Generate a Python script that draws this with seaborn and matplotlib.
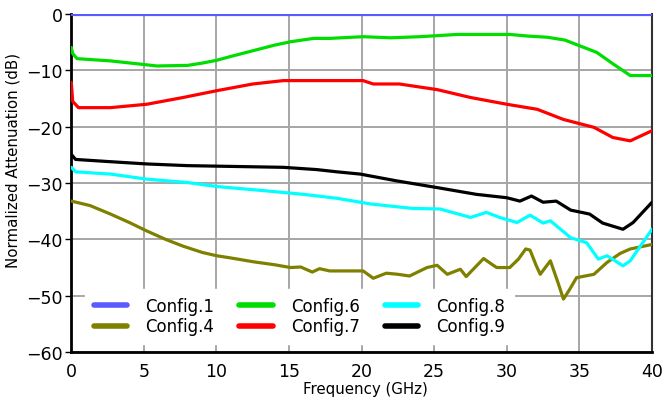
import seaborn as sns
from matplotlib import pyplot as plt
import pandas as pd

# frequency (GHz) / normalized attenuation (dB)
f_cfg1 = [0, 40]
a_cfg1 = [0, 0]

f_cfg4 = [0, 0.5, 1.3, 2.7, 4, 5.2, 6.5, 7.7, 9, 10, 11, 12.6, 14, 15.1, 15.8,
          16.6, 17.1, 17.8, 19, 20.1, 20.8, 21.7, 22.5, 23.3, 24.5, 25.2, 25.9,
          26.8, 27.2, 27.8, 28.4, 28.9, 29.3, 30.2, 30.8, 31.3, 31.6, 32.0,
          32.3, 33.0, 33.5, 33.9, 34.3, 34.8, 36.0, 36.9, 37.8, 38.5, 40]
a_cfg4 = [-33.2, -33.5, -34.0, -35.5, -37.0, -38.5, -40.0, -41.2, -42.3, -42.9,
          -43.3, -44.0, -44.5, -45.0, -44.9, -45.8, -45.2, -45.6, -45.6, -45.6,
          -46.9, -46.0, -46.2, -46.5, -45.0, -44.6, -46.2, -45.3, -46.6, -45.0,
          -43.4, -44.3, -45.0, -45.0, -43.5, -41.7, -41.9, -44.5, -46.2, -43.8,
          -47.5, -50.6, -49.0, -46.8, -46.2, -44.1, -42.5, -41.7, -40.9]

f_cfg6 = [0, 0.1, 0.4, 2.7, 4.5, 5.9, 8.0, 9, 10.0, 11, 12.5, 14, 15.1, 16.7,
          17.8, 20.1, 22, 24, 26.6, 30.2, 31.5, 32.8, 34, 35.0, 36.2, 37.3,
          38.5, 40]
a_cfg6 = [-5.9, -7.0, -7.9, -8.3, -8.8, -9.2, -9.1, -8.7, -8.2, -7.5, -6.5,
          -5.5, -4.9, -4.3, -4.3, -4.0, -4.2, -4.0, -3.6, -3.6, -3.9, -4.1,
          -4.6, -5.6, -6.8, -8.8, -10.9, -10.9]

f_cfg7 = [0, 0.1, 0.5, 2.7, 5.2, 7.7, 10.0, 12.5, 14.6, 20.1, 20.8, 22.6, 25.2,
          27.5, 30.0, 32.1, 33.9, 36.0, 37.3, 38.5, 40]
a_cfg7 = [-12.1, -15.5, -16.6, -16.6, -16.0, -14.8, -13.6, -12.4, -11.8, -11.8,
          -12.4, -12.4, -13.4, -14.8, -16.0, -16.9, -18.7, -20.1, -21.9, -22.5,
          -20.7]

f_cfg8 = [0, 0.3, 2.7, 5.2, 8.0, 10.0, 13.5, 16.0, 18.3, 20.6, 23.5, 25.4, 27.5,
          28.6, 29.5, 30.7, 31.6, 32.5, 33.0, 34.4, 35.5, 36.3, 36.9, 38.0,
          38.5, 40]
a_cfg8 = [-27.2, -28.0, -28.4, -29.3, -29.9, -30.6, -31.4, -32.0, -32.7, -33.7,
          -34.5, -34.6, -36.1, -35.2, -36.1, -37.0, -35.7, -37.1, -36.7, -39.7,
          -40.6, -43.5, -42.9, -44.7, -43.8, -38.2]

f_cfg9 = [0, 0.3, 2.7, 5.2, 8.0, 14.6, 16.9, 18.3, 19.9, 22.4, 25.2, 27.9, 30.0,
          30.9, 31.7, 32.5, 33.4, 34.4, 35.7, 36.6, 38.0, 38.7, 40]
a_cfg9 = [-24.9, -25.8, -26.2, -26.6, -26.9, -27.2, -27.6, -28.0, -28.4, -29.6,
          -30.8, -32.0, -32.6, -33.2, -32.3, -33.4, -33.2, -34.8, -35.5, -37.1,
          -38.2, -37.0, -33.4]

names = ['Config.1', 'Config.4', 'Config.6', 'Config.7', 'Config.8', 'Config.9']
colors = ['#5a5aff', '#808000', '#00dd00', '#ff0000', '#00ffff', '#000000']

series = [(f_cfg1, a_cfg1), (f_cfg4, a_cfg4), (f_cfg6, a_cfg6),
          (f_cfg7, a_cfg7), (f_cfg8, a_cfg8), (f_cfg9, a_cfg9)]
df = pd.concat([pd.DataFrame({'freq': f, 'att': a, 'config': n})
                for n, (f, a) in zip(names, series)], ignore_index=True)

sns.set_style("white")
plt.rcParams['font.family'] = ['DejaVu Sans']
plt.rcParams['text.color'] = 'black'
plt.rcParams['axes.labelcolor'] = 'black'
plt.rcParams['xtick.color'] = 'black'
plt.rcParams['ytick.color'] = 'black'

fig = plt.figure(figsize=(6.66, 4.10), dpi=100)
ax = fig.add_axes([0.107, 0.139, 0.872, 0.824])

sns.lineplot(data=df, x='freq', y='att', hue='config', hue_order=names,
             palette=dict(zip(names, colors)), linewidth=2.3, sort=False,
             estimator=None, ax=ax, zorder=3)

ax.set_xlim(0, 40)
ax.set_ylim(-60, 0)
ax.set_xticks(range(0, 41, 5))
ax.set_yticks(range(-60, 1, 10))
ax.grid(True, color='#a6a6a6', linewidth=1.4)
ax.set_axisbelow(True)
ax.set_xlabel('Frequency (GHz)', fontsize=10.8)
ax.set_ylabel('Normalized Attenuation (dB)', fontsize=10.8)
ax.xaxis.set_label_coords(0.506, -0.085)
ax.yaxis.set_label_coords(-0.088, 0.571)
ax.tick_params(axis='y', left=True, direction='out', length=4, width=1, pad=2,
               labelsize=12.5)
ax.tick_params(axis='x', bottom=False, pad=4, labelsize=12.5)

ax.spines['top'].set_visible(False)
for s in ['left', 'bottom']:
    ax.spines[s].set_color('black')
    ax.spines[s].set_linewidth(2)
ax.spines['right'].set_color('#333333')
ax.spines['right'].set_linewidth(1.5)

leg = ax.legend(ncol=3, loc='lower left', bbox_to_anchor=(0.01, 0.0),
                frameon=True, framealpha=1, edgecolor='white', fancybox=False,
                fontsize=12, handlelength=2.0, columnspacing=1.5,
                handletextpad=1.1, labelspacing=0.15, borderpad=0.5)
for line in leg.get_lines():
    line.set_linewidth(4)

fig.savefig('out.png', dpi=100)
